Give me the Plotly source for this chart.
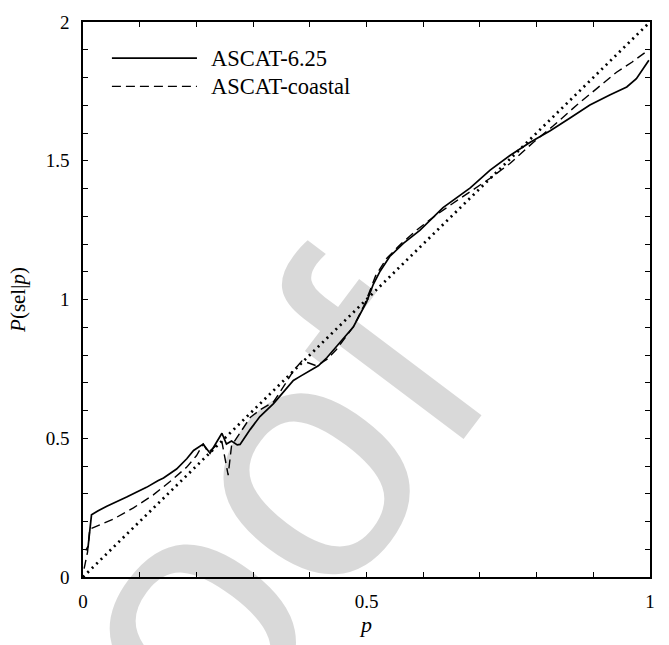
import plotly.graph_objects as go

# ---- data ----
ascat625_x = [0.005, 0.009, 0.015, 0.026, 0.042, 0.057, 0.077, 0.094, 0.112, 0.132,
              0.142, 0.165, 0.183, 0.195, 0.206, 0.212, 0.224, 0.239, 0.245, 0.253,
              0.262, 0.272, 0.277, 0.295, 0.312, 0.336, 0.353, 0.371, 0.383, 0.400,
              0.415, 0.430, 0.453, 0.477, 0.500, 0.512, 0.524, 0.541, 0.565, 0.594,
              0.635, 0.683, 0.718, 0.753, 0.788, 0.824, 0.859, 0.894, 0.929, 0.959,
              0.976, 0.988, 0.998]
ascat625_y = [0.096, 0.110, 0.224, 0.238, 0.255, 0.268, 0.288, 0.305, 0.323, 0.347,
              0.357, 0.389, 0.426, 0.456, 0.469, 0.479, 0.446, 0.496, 0.518, 0.479,
              0.490, 0.476, 0.478, 0.532, 0.578, 0.625, 0.667, 0.708, 0.723, 0.743,
              0.761, 0.790, 0.843, 0.902, 0.990, 1.055, 1.102, 1.155, 1.202, 1.249,
              1.331, 1.402, 1.466, 1.519, 1.566, 1.608, 1.654, 1.701, 1.737, 1.766,
              1.796, 1.831, 1.862]

coastal_x = [0.002, 0.008, 0.012, 0.024, 0.053, 0.089, 0.124, 0.153, 0.183, 0.200,
             0.212, 0.221, 0.234, 0.245, 0.256, 0.262, 0.277, 0.295, 0.312, 0.336,
             0.353, 0.371, 0.386, 0.397, 0.412, 0.430, 0.447, 0.477, 0.497, 0.516,
             0.535, 0.561, 0.592, 0.622, 0.652, 0.688, 0.718, 0.753, 0.794, 0.829,
             0.871, 0.906, 0.941, 0.968, 0.998]
coastal_y = [0.030, 0.090, 0.173, 0.184, 0.208, 0.249, 0.296, 0.343, 0.396, 0.437,
             0.479, 0.449, 0.472, 0.487, 0.367, 0.473, 0.520, 0.575, 0.602, 0.631,
             0.684, 0.743, 0.778, 0.772, 0.761, 0.784, 0.820, 0.902, 0.984, 1.085,
             1.147, 1.201, 1.256, 1.303, 1.346, 1.397, 1.437, 1.490, 1.566, 1.625,
             1.701, 1.760, 1.819, 1.855, 1.900]

reference_x = [0.0, 1.0]
reference_y = [0.0, 2.0]

x_tick_vals = [0.0, 0.1, 0.2, 0.3, 0.4, 0.5, 0.6, 0.7, 0.8, 0.9, 1.0]
x_tick_text = ["0", "", "", "", "", "0.5", "", "", "", "", "1"]
y_tick_vals = [i / 10 for i in range(21)]
y_tick_text = ["0", "", "", "", "", "0.5", "", "", "", "", "1",
               "", "", "", "", "1.5", "", "", "", "", "2"]

series_names = ["ASCAT-6.25", "ASCAT-coastal"]

SERIF = "Liberation Serif, Times New Roman, serif"

fig = go.Figure()
fig.add_trace(go.Scatter(x=reference_x, y=reference_y, mode="lines",
                         line=dict(color="black", width=2.7, dash="2px,4.2px"),
                         showlegend=False, hoverinfo="skip"))
fig.add_trace(go.Scatter(x=coastal_x, y=coastal_y, mode="lines", name=series_names[1],
                         line=dict(color="black", width=1.4, dash="9px,5px"),
                         showlegend=False))
fig.add_trace(go.Scatter(x=ascat625_x, y=ascat625_y, mode="lines", name=series_names[0],
                         line=dict(color="black", width=1.7),
                         showlegend=False))

axis_common = dict(showgrid=False, zeroline=False, showline=True, linecolor="black",
                   linewidth=1.5, mirror="ticks", ticks="inside", ticklen=5,
                   tickwidth=1.2, tickcolor="black",
                   tickfont=dict(family=SERIF, size=19, color="black"))

fig.update_xaxes(range=[0, 1], tickmode="array", tickvals=x_tick_vals,
                 ticktext=x_tick_text, ticklabelstandoff=6,
                 title=dict(text="<i>p</i>", font=dict(family=SERIF, size=22, color="black"),
                            standoff=6),
                 **axis_common)
fig.update_yaxes(range=[0, 2], tickmode="array", tickvals=y_tick_vals,
                 ticktext=y_tick_text, ticklabelstandoff=8,
                 title=dict(text="<i>P</i>(sel|<i>p</i>)",
                            font=dict(family=SERIF, size=21, color="black"),
                            standoff=14),
                 **axis_common)

# manual legend
legend_y = [0.935, 0.884]
dashes = ["solid", "9px,5px"]
widths = [1.7, 1.4]
for name, yy, dsh, w in zip(series_names, legend_y, dashes, widths):
    fig.add_shape(type="line", xref="paper", yref="paper", x0=0.051, x1=0.201,
                  y0=yy, y1=yy, line=dict(color="black", width=w, dash=dsh))
    fig.add_annotation(xref="paper", yref="paper", x=0.222, y=yy, text=name,
                       showarrow=False, xanchor="left", yanchor="middle",
                       font=dict(family=SERIF, size=22.5, color="black"))

# watermark
fig.add_annotation(xref="paper", yref="paper", x=0.142, y=-0.115, text="Proof",
                   showarrow=False, textangle=-53, xanchor="center", yanchor="middle",
                   font=dict(family="Liberation Sans, Arial, sans-serif", size=340,
                             color="rgba(0,0,0,0.15)"))

fig.update_layout(width=669, height=645, margin=dict(l=83, r=19, t=12, b=66),
                  paper_bgcolor="white", plot_bgcolor="white")

fig.write_html("out.html")
